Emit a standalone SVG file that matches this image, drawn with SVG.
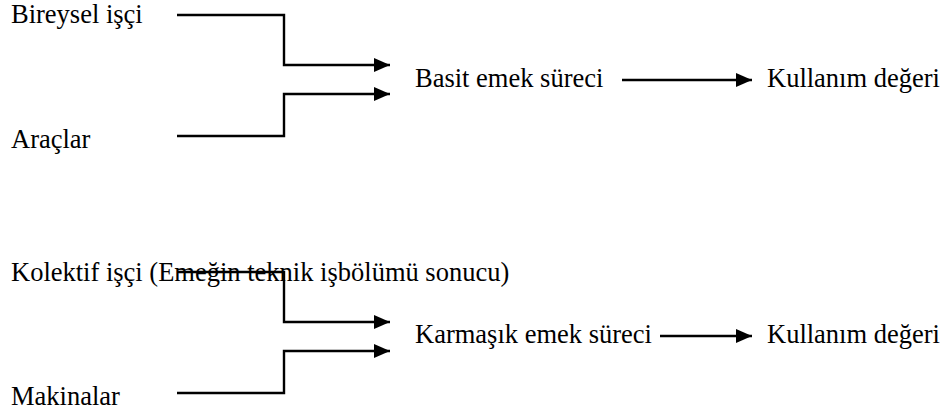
<svg xmlns="http://www.w3.org/2000/svg" width="946" height="412" viewBox="0 0 946 412">
<style>
text{font-family:"Liberation Serif","Times New Roman",serif;font-size:26.5px;fill:#000}
.c{fill:none;stroke:#000;stroke-width:2.4}
</style>
<defs>
<marker id="ah" markerWidth="16" markerHeight="14" refX="16" refY="7" orient="auto" markerUnits="userSpaceOnUse">
<path d="M0,0 L16,7 L0,14 z" fill="#000"/>
</marker>
</defs>
<rect width="946" height="412" fill="#fff"/>
<g id="bireysel"><text x="11" y="23">Bireysel işçi</text></g>
<g id="araclar"><text x="11" y="148">Araçlar</text></g>
<g id="basit"><text x="415" y="87">Basit emek süreci</text></g>
<g id="kullanim1"><text x="767" y="87">Kullanım değeri</text></g>
<g id="kolektif"><text x="11" y="281">Kolektif işçi (Emeğin teknik işbölümü sonucu)</text></g>
<g id="makinalar"><text x="11" y="405">Makinalar</text></g>
<g id="karmasik"><text x="415" y="343">Karmaşık emek süreci</text></g>
<g id="kullanim2"><text x="767" y="343">Kullanım değeri</text></g>
<g id="connectors">
<path class="c" d="M177,15 H284 V65 H390" marker-end="url(#ah)"/>
<path class="c" d="M177,136 H284 V94 H390" marker-end="url(#ah)"/>
<path class="c" d="M622,80 H752" marker-end="url(#ah)"/>
<path class="c" d="M177,272 H284 V322 H390" marker-end="url(#ah)"/>
<path class="c" d="M177,393 H284 V351 H390" marker-end="url(#ah)"/>
<path class="c" d="M660,336 H752" marker-end="url(#ah)"/>
</g>
</svg>
